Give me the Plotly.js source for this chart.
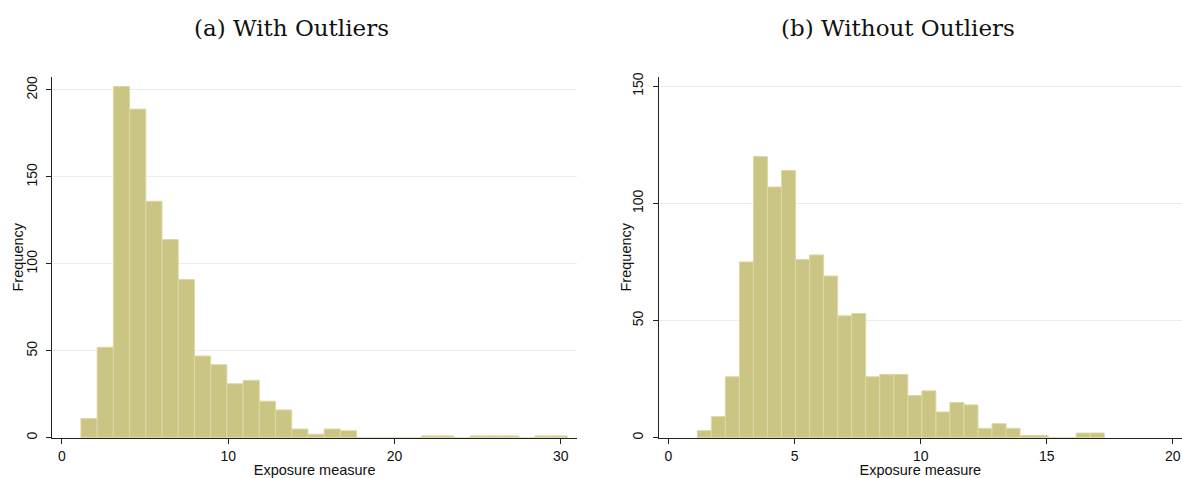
<!DOCTYPE html>
<html>
<head>
<meta charset="utf-8">
<script src="https://cdn.plot.ly/plotly-3.0.1.min.js"></script>
<style>
  html, body { margin: 0; padding: 0; background: #ffffff; }
  #chart { width: 1182px; height: 478px; }
</style>
</head>
<body>
<div id="chart"></div>
<script>
// Histogram of the exposure measure: full sample (30 bins) and trimmed sample (29 bins)
const withOutliersStart = 1.142;
const withOutliersWidth = 0.975;
const withOutliersCounts = [11, 52, 202, 189, 136, 114, 91, 47, 42, 31,
                            33, 21, 16, 5, 2, 5, 4, 0, 0, 0,
                            0, 1, 1, 0, 1, 1, 1, 0, 1, 1];

const withoutOutliersStart = 1.142;
const withoutOutliersWidth = 0.5565;
const withoutOutliersCounts = [3, 9, 26, 75, 120, 107, 114, 76, 78, 69,
                               52, 53, 26, 27, 27, 18, 20, 11, 15, 14,
                               4, 6, 4, 1, 1, 0, 0, 2, 2];

const panelTitles = ["(a) With Outliers", "(b) Without Outliers"];
const xAxisTitle = "Exposure measure";
const yAxisTitle = "Frequency";
const leftXTicks = [0, 10, 20, 30];
const leftYTicks = [0, 50, 100, 150, 200];
const rightXTicks = [0, 5, 10, 15, 20];
const rightYTicks = [0, 50, 100, 150];

function binCenters(start, width, counts) {
  return counts.map((_, k) => start + (k + 0.5) * width);
}

const barFill = "#cbc583";
const barEdge = "#dcd8a6";

const traces = [
  {
    type: "bar",
    x: binCenters(withOutliersStart, withOutliersWidth, withOutliersCounts),
    y: withOutliersCounts,
    width: withOutliersWidth,
    marker: { color: barFill, line: { color: barEdge, width: 1 } },
    xaxis: "x", yaxis: "y",
    hoverinfo: "x+y"
  },
  {
    type: "bar",
    x: binCenters(withoutOutliersStart, withoutOutliersWidth, withoutOutliersCounts),
    y: withoutOutliersCounts,
    width: withoutOutliersWidth,
    marker: { color: barFill, line: { color: barEdge, width: 1 } },
    xaxis: "x2", yaxis: "y2",
    hoverinfo: "x+y"
  }
];

const W = 1182, H = 478;
const tickFont = { family: "Liberation Sans, Arial, sans-serif", size: 14, color: "#111111" };
const titleFont = { family: "Liberation Sans, Arial, sans-serif", size: 14.5, color: "#111111" };
const headFont = { family: "DejaVu Serif, serif", size: 23, color: "#111111" };

function xAxis(domain, range, ticks) {
  return {
    domain: domain, range: range,
    tickmode: "array", tickvals: ticks, ticktext: ticks.map(String),
    ticks: "outside", ticklen: 5, tickwidth: 1, tickcolor: "#222222",
    showline: true, linecolor: "#222222", linewidth: 1,
    showgrid: false, zeroline: false,
    tickfont: tickFont,
    title: { text: xAxisTitle, font: titleFont, standoff: 5 }
  };
}

function yAxis(domain, range, ticks, anchor) {
  return {
    domain: domain, range: range, anchor: anchor,
    tickmode: "array", tickvals: ticks, ticktext: ticks.map(String),
    ticks: "outside", ticklen: 5, tickwidth: 1, tickcolor: "#222222",
    tickangle: -90, ticklabelstandoff: 4,
    showline: true, linecolor: "#222222", linewidth: 1,
    showgrid: true, gridcolor: "#e8eff0", gridwidth: 1,
    zeroline: false,
    tickfont: tickFont
  };
}

const yDomain = [(H - 437.7) / H, (H - 77.3) / H];
const plotMidY = (yDomain[0] + yDomain[1]) / 2;

function yTitle(xPx) {
  return {
    text: yAxisTitle, xref: "paper", yref: "paper",
    x: xPx / W, y: plotMidY, xanchor: "center", yanchor: "middle",
    textangle: -90, showarrow: false, font: titleFont
  };
}

function panelTitle(text, xPx) {
  return {
    text: text, xref: "paper", yref: "paper",
    x: xPx / W, y: (H - 28) / H, xanchor: "center", yanchor: "middle",
    showarrow: false, font: headFont
  };
}

const layout = {
  width: W, height: H,
  margin: { l: 0, r: 0, t: 0, b: 0 },
  paper_bgcolor: "#ffffff",
  plot_bgcolor: "#ffffff",
  showlegend: false,
  bargap: 0,
  xaxis: Object.assign(xAxis([52.3 / W, 577 / W], [-0.58, 30.97], leftXTicks), { anchor: "y" }),
  yaxis: yAxis(yDomain, [0, 207.3], leftYTicks, "x"),
  xaxis2: Object.assign(xAxis([659 / W, 1181.7 / W], [-0.377, 20.35], rightXTicks), { anchor: "y2" }),
  yaxis2: yAxis(yDomain, [0, 153.8], rightYTicks, "x2"),
  annotations: [
    panelTitle(panelTitles[0], 291),
    panelTitle(panelTitles[1], 898),
    yTitle(17),
    yTitle(625)
  ]
};

Plotly.newPlot("chart", traces, layout, { displayModeBar: false, staticPlot: true });
</script>
</body>
</html>
